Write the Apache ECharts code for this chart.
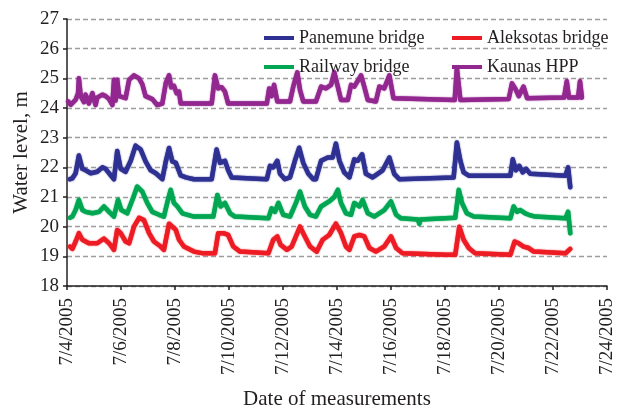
<!DOCTYPE html>
<html><head><meta charset="utf-8">
<script src="https://cdn.jsdelivr.net/npm/echarts@6/dist/echarts.min.js"></script>
<style>html,body{margin:0;padding:0;background:#fff}#c{width:626px;height:410px}</style>
</head><body><div id="c"></div>
<script>
// x = days since 7/4/2005 00:00, y = water level (m)
const seriesNames = ['Panemune bridge', 'Aleksotas bridge', 'Railway bridge', 'Kaunas HPP'];
const startMonth = 7, startDay = 4, year = 2005;
const yMin = 18, yMax = 27, yStep = 1;
const xMin = 0, xMax = 20, xStep = 2;

const panemune = [[0.11,21.6],[0.20,21.63],[0.32,21.8],[0.44,22.4],[0.57,21.95],[0.69,21.9],[0.88,21.8],[1.12,21.85],[1.31,22.0],[1.43,21.95],
[1.62,21.73],[1.74,21.6],[1.86,22.55],[1.99,21.95],[2.17,21.85],[2.36,22.22],[2.54,22.73],[2.73,22.6],[2.91,22.2],[3.10,21.9],
[3.29,21.8],[3.53,21.6],[3.66,22.2],[3.78,22.65],[3.90,22.2],[4.03,22.15],[4.21,21.73],[4.40,21.66],[4.70,21.6],[5.36,21.6],
[5.54,22.6],[5.67,22.15],[5.85,22.22],[5.97,21.9],[6.10,21.66],[7.40,21.6],[7.52,22.05],[7.64,22.0],[7.79,22.22],[7.89,21.78],
[8.07,21.6],[8.26,21.66],[8.44,22.22],[8.60,22.66],[8.75,22.15],[8.94,21.78],[9.12,21.6],[9.22,21.6],[9.41,22.22],[9.66,22.33],
[9.84,22.33],[9.96,22.8],[10.09,22.22],[10.27,21.83],[10.46,21.66],[10.64,22.27],[10.77,22.22],[10.93,22.44],[11.07,21.78],[11.32,21.66],
[11.69,21.9],[11.94,22.33],[12.12,21.78],[12.31,21.6],[14.32,21.66],[14.44,22.84],[14.57,22.22],[14.69,21.83],[14.88,21.72],[16.42,21.72],
[16.51,22.27],[16.63,21.9],[16.75,22.05],[16.88,21.83],[17.00,21.95],[17.16,21.78],[18.46,21.72],[18.56,22.0],[18.64,21.33]];

const aleksotas = [[0.11,19.33],[0.20,19.25],[0.32,19.5],[0.44,19.78],[0.57,19.56],[0.81,19.44],[1.12,19.44],[1.37,19.6],[1.56,19.44],[1.74,19.22],
[1.86,19.89],[1.99,19.78],[2.17,19.5],[2.30,19.44],[2.48,20.0],[2.67,20.3],[2.85,20.22],[3.04,19.78],[3.22,19.5],[3.47,19.33],
[3.59,19.22],[3.78,20.1],[3.90,20.0],[4.03,19.89],[4.15,19.56],[4.33,19.33],[4.70,19.16],[5.05,19.1],[5.48,19.1],[5.60,19.78],
[5.79,19.78],[5.97,19.72],[6.16,19.33],[6.41,19.16],[7.46,19.1],[7.64,19.56],[7.79,19.67],[7.91,19.39],[8.14,19.22],[8.32,19.33],
[8.63,20.0],[8.81,19.67],[9.0,19.33],[9.25,19.16],[9.47,19.56],[9.71,19.72],[9.96,20.1],[10.15,19.78],[10.33,19.33],[10.46,19.22],
[10.64,19.67],[10.83,19.72],[11.01,19.67],[11.20,19.28],[11.44,19.16],[11.75,19.33],[12.0,19.67],[12.19,19.28],[12.43,19.1],[14.04,19.05],
[14.38,19.05],[14.53,20.0],[14.69,19.56],[14.88,19.28],[15.12,19.1],[16.42,19.05],[16.58,19.5],[16.73,19.44],[16.91,19.33],[17.10,19.28],
[17.29,19.16],[18.46,19.1],[18.64,19.25]];

const railway = [[0.11,20.3],[0.20,20.34],[0.32,20.56],[0.44,20.9],[0.57,20.56],[0.69,20.5],[0.94,20.45],[1.19,20.5],[1.37,20.68],[1.56,20.5],
[1.74,20.34],[1.89,20.9],[2.01,20.56],[2.23,20.45],[2.42,20.9],[2.60,21.35],[2.79,21.18],[2.97,20.8],[3.16,20.5],[3.41,20.4],
[3.59,20.34],[3.71,20.8],[3.84,21.24],[3.96,20.8],[4.09,20.68],[4.27,20.45],[4.70,20.34],[5.42,20.34],[5.57,21.07],[5.69,20.68],
[5.85,20.8],[6.04,20.45],[6.22,20.34],[7.46,20.28],[7.58,20.62],[7.70,20.5],[7.83,20.8],[8.01,20.4],[8.26,20.34],[8.48,20.8],
[8.63,21.18],[8.81,20.68],[9.0,20.4],[9.22,20.34],[9.41,20.68],[9.71,20.85],[9.90,21.0],[10.03,21.24],[10.15,20.8],[10.33,20.45],
[10.52,20.4],[10.64,20.8],[10.83,20.68],[10.95,20.9],[11.14,20.45],[11.38,20.34],[11.75,20.56],[12.0,20.85],[12.19,20.4],[12.37,20.28],
[13.0,20.24],[13.05,20.1],[13.09,20.24],[14.38,20.3],[14.51,21.24],[14.63,20.8],[14.81,20.45],[15.06,20.34],[16.42,20.28],[16.54,20.68],
[16.67,20.5],[16.79,20.56],[16.97,20.45],[17.10,20.4],[17.34,20.34],[18.46,20.28],[18.56,20.5],[18.64,19.78]];

const kaunasHPP = [[0.04,24.22],[0.14,24.11],[0.32,24.28],[0.41,24.5],[0.44,25.0],[0.51,24.4],[0.63,24.2],[0.69,24.45],[0.81,24.15],[0.94,24.5],
[1.06,24.1],[1.12,24.35],[1.31,24.45],[1.43,24.4],[1.56,24.3],[1.68,24.1],[1.74,24.95],[1.80,24.25],[1.86,24.95],[1.93,24.4],
[2.17,24.33],[2.30,24.95],[2.48,25.1],[2.67,25.0],[2.79,24.8],[2.91,24.4],[3.16,24.3],[3.34,24.1],[3.53,24.15],[3.66,24.85],
[3.78,25.1],[3.86,24.7],[3.96,24.75],[4.06,24.5],[4.15,24.55],[4.21,24.15],[5.36,24.15],[5.48,25.1],[5.60,24.66],[5.73,24.7],
[5.85,24.55],[5.97,24.15],[7.40,24.15],[7.49,24.66],[7.58,24.4],[7.67,24.78],[7.79,24.22],[8.26,24.22],[8.38,24.72],[8.53,25.2],
[8.63,24.6],[8.75,24.22],[9.22,24.22],[9.41,24.72],[9.59,24.66],[9.78,24.78],[9.90,25.2],[10.03,24.72],[10.15,24.27],[10.40,24.27],
[10.52,24.78],[10.64,24.72],[10.89,25.1],[11.01,24.72],[11.14,24.27],[11.44,24.22],[11.57,24.72],[11.75,24.66],[11.94,25.1],[12.09,24.33],
[14.36,24.27],[14.44,25.34],[14.57,24.27],[16.36,24.3],[16.48,24.83],[16.60,24.66],[16.73,24.4],[16.91,24.72],[17.04,24.33],[18.41,24.35],
[18.51,24.9],[18.59,24.35],[18.93,24.35],[19.0,24.9],[19.07,24.35]];

const colors = {'Panemune bridge':'#2e3192','Aleksotas bridge':'#ed1c24','Railway bridge':'#00a651','Kaunas HPP':'#92278f'};
const dataByName = {'Panemune bridge':panemune,'Aleksotas bridge':aleksotas,'Railway bridge':railway,'Kaunas HPP':kaunasHPP};

const FONT = '"Liberation Serif", "Times New Roman", serif';
const TXT = '#231f20';

const chart = echarts.init(document.getElementById('c'), null, {renderer:'canvas'});
chart.setOption({
  animation:false,
  backgroundColor:'#fff',
  grid:{left:67, right:19, top:19, bottom:124, containLabel:false, outerBoundsMode:'none'},
  legend:[
    {data:['Panemune bridge','Railway bridge'], orient:'vertical', left:259, top:23,
     icon:'rect', itemWidth:30, itemHeight:4, itemGap:9, itemTextGap:6,
     textStyle:{fontFamily:FONT, fontSize:18, color:TXT, lineHeight:20}},
    {data:['Aleksotas bridge','Kaunas HPP'], orient:'vertical', left:447, top:23,
     icon:'rect', itemWidth:30, itemHeight:4, itemGap:9, itemTextGap:6,
     textStyle:{fontFamily:FONT, fontSize:18, color:TXT, lineHeight:20}}
  ],
  xAxis:{type:'value', min:xMin, max:xMax, interval:xStep,
    name:'Date of measurements', nameLocation:'middle', nameGap:103,
    nameTextStyle:{fontFamily:FONT, fontSize:21, color:TXT},
    axisLine:{show:true, onZero:false, lineStyle:{color:'#231f20', width:1.5}},
    axisTick:{show:true, inside:false, length:4, lineStyle:{color:'#231f20', width:1.5}},
    axisLabel:{rotate:90, margin:12, fontFamily:FONT, fontSize:19, color:TXT,
      formatter:v => startMonth + '/' + (startDay + v) + '/' + year},
    splitLine:{show:false}},
  yAxis:{type:'value', min:yMin, max:yMax, interval:yStep,
    name:'Water level, m', nameLocation:'middle', nameGap:35, nameMoveOverlap:false,
    nameTextStyle:{fontFamily:FONT, fontSize:21, color:TXT},
    axisLine:{show:true, lineStyle:{color:'#231f20', width:1.5}},
    axisTick:{show:true, inside:false, length:4, lineStyle:{color:'#231f20', width:1.5}},
    axisLabel:{margin:8, fontFamily:FONT, fontSize:19, color:TXT},
    splitLine:{show:true, lineStyle:{color:'#9d9d9d', width:1.3, type:[5,3]}}},
  series: seriesNames.map(n => ({
    name:n, type:'line', data:dataByName[n], showSymbol:false, symbol:'none',
    color:colors[n],
    lineStyle:{width:4.5, color:colors[n], join:'round', cap:'round', shadowBlur:1.5, shadowColor:colors[n]},
    z: 2
  }))
});
</script></body></html>
